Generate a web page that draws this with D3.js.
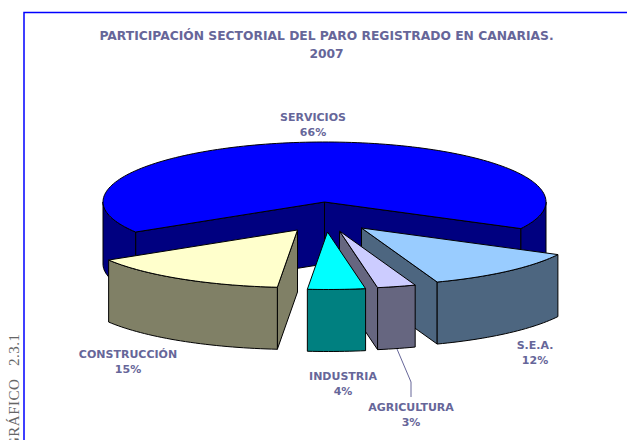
<!DOCTYPE html>
<html><head><meta charset="utf-8">
<script src="https://cdn.jsdelivr.net/npm/d3@7/dist/d3.min.js"></script>
<style>html,body{margin:0;padding:0;background:#fff;overflow:hidden}svg{display:block}</style>
</head><body><div id="c"></div>
<script>
// Data (estimated shares behind the rounded labels)
const categories = ["SERVICIOS","S.E.A.","AGRICULTURA","INDUSTRIA","CONSTRUCCIÓN"];
const shares = [66.4,11.8,2.8,4.2,14.8];
const labels = ["66%","12%","3%","4%","15%"];
const titleLines = ["PARTICIPACIÓN SECTORIAL DEL PARO REGISTRADO EN CANARIAS.","2007"];
const sideLabel = "GRÁFICO   2.3.1";

// Layout and style, kept apart from the data
const W=627,H=440;
const topColors={"SERVICIOS":"#0000ff","S.E.A.":"#99ccff","AGRICULTURA":"#ccccff","INDUSTRIA":"#00ffff","CONSTRUCCIÓN":"#ffffcc"};
const wallColors={"SERVICIOS":"#000080","S.E.A.":"#4d6680","AGRICULTURA":"#666680","INDUSTRIA":"#008080","CONSTRUCCIÓN":"#808066"};
const explode={"SERVICIOS":[0,0],"S.E.A.":[37,26],"AGRICULTURA":[15,29],"INDUSTRIA":[3,30],"CONSTRUCCIÓN":[-27,28]};
const labelPos={"SERVICIOS":[313,121],"S.E.A.":[535,349],"AGRICULTURA":[411,411],"INDUSTRIA":[343,380],"CONSTRUCCIÓN":[128,358]};
const drawOrder=["SERVICIOS","S.E.A.","CONSTRUCCIÓN","AGRICULTURA","INDUSTRIA"];
const cx=324.5,cy=202,rx=221.5,ryBack=60,ryFront=57.5,depth=62;
const rad=d=>d*Math.PI/180;
const textColor="#666699",font="Tahoma,'DejaVu Sans',sans-serif";

const svg=d3.select("#c").append("svg").attr("width",W).attr("height",H);
svg.append("path").attr("d",d3.line()([[W,12.5],[24,12.5],[24,H]])).attr("fill","none").attr("stroke","#0000ff").attr("stroke-width",1.5);

const pie=d3.pie().sort(null).startAngle(rad(-121.5)).endAngle(rad(238.5));
const arcs=pie(shares).map((a,i)=>({name:categories[i],label:labels[i],start:a.startAngle,end:a.endAngle}));
const sx=d3.scaleLinear().domain([-1,1]).range([cx-rx,cx+rx]);
const sy=d3.scaleLinear().domain([-1,0,1]).range([cy-ryBack,cy,cy+ryFront]);
const pt=(a,o,z=0)=>[sx(Math.sin(a))+o[0],sy(-Math.cos(a))+o[1]+z];
const apex=(o,z=0)=>[sx(0)+o[0],sy(0)+o[1]+z];
const line=d3.line();
const arcPts=(a0,a1,o,z=0)=>{const n=Math.max(2,Math.ceil((a1-a0)/rad(1.5)));return d3.range(n+1).map(i=>pt(a0+(a1-a0)*i/n,o,z));};
const norm=t=>((t%(2*Math.PI))+2*Math.PI)%(2*Math.PI);

const g=svg.append("g").attr("stroke","#000").attr("stroke-width",1).attr("stroke-linejoin","round");
const poly=(pts,fill)=>g.append("path").attr("d",line(pts)+"Z").attr("fill",fill);

drawOrder.forEach(name=>{
  const a=arcs.find(d=>d.name===name),o=explode[name],wall=wallColors[name];
  // cut faces that turn towards the viewer
  if(norm(a.start)>Math.PI) poly([apex(o),pt(a.start,o),pt(a.start,o,depth),apex(o,depth)],wall);
  if(norm(a.end)<Math.PI) poly([apex(o),pt(a.end,o),pt(a.end,o,depth),apex(o,depth)],wall);
  // outer rim: only the part facing the viewer
  [0,2*Math.PI,-2*Math.PI].forEach(shift=>{
    const f0=Math.max(a.start+shift,rad(90)),f1=Math.min(a.end+shift,rad(270));
    if(f1>f0){const up=arcPts(f0,f1,o);const dn=arcPts(f0,f1,o,depth).reverse();poly(up.concat(dn),wall);}
  });
  // top
  poly([apex(o)].concat(arcPts(a.start,a.end,o)),topColors[name]);
});

const txt=svg.append("g").attr("fill",textColor).attr("font-family",font).attr("font-weight","bold").attr("text-anchor","middle");
titleLines.forEach((t,i)=>txt.append("text").attr("font-size",12.3).attr("x",326.5).attr("y",40+i*17.5).text(t));
arcs.forEach(a=>{
  const p=labelPos[a.name];
  txt.append("text").attr("font-size",11).attr("x",p[0]).attr("y",p[1]).text(a.name);
  txt.append("text").attr("font-size",11).attr("x",p[0]).attr("y",p[1]+14.5).text(a.label);
});
svg.append("path").attr("d",line([[397,349],[411,382],[411,397]])).attr("fill","none").attr("stroke",textColor).attr("stroke-width",1);
svg.append("text").attr("transform","translate(19,369) rotate(-90)").attr("text-anchor","start")
  .attr("xml:space","preserve").style("white-space","pre").attr("font-family","'Liberation Serif',serif").attr("font-size",15).attr("letter-spacing",0.5)
  .attr("fill","#666666").attr("dx",-79).text(sideLabel);
</script></body></html>
